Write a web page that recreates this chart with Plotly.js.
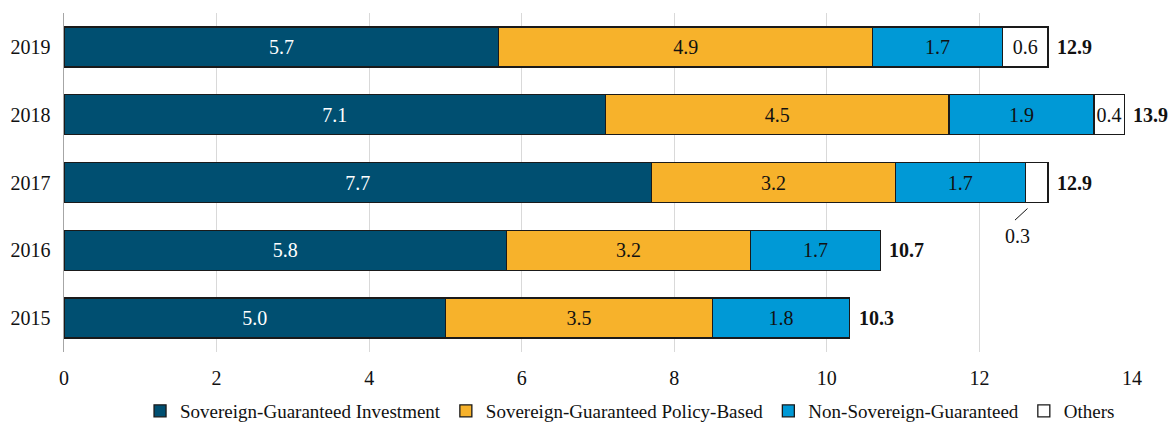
<!DOCTYPE html>
<html>
<head>
<meta charset="utf-8">
<script src="https://cdn.plot.ly/plotly-3.0.1.min.js"></script>
<style>
  html, body { margin: 0; padding: 0; background: #fff; }
  #chart { width: 1170px; height: 423px; }
</style>
</head>
<body>
<div id="chart"></div>
<script>
// Lending approvals by type, 2015-2019 ($ billion)
const years = ['2015', '2016', '2017', '2018', '2019'];
const sovInvestment = [5.0, 5.8, 7.7, 7.1, 5.7];
const sovPolicy = [3.5, 3.2, 3.2, 4.5, 4.9];
const nonSovereign = [1.8, 1.7, 1.7, 1.9, 1.7];
const others = [null, null, 0.3, 0.4, 0.6];
const seriesNames = [
  'Sovereign-Guaranteed Investment',
  'Sovereign-Guaranteed Policy-Based',
  'Non-Sovereign-Guaranteed',
  'Others'
];
const seriesColors = ['#004F71', '#F7B22B', '#0099D6', '#FFFFFF'];
const labelColors = ['#FFFFFF', '#111111', '#111111', '#111111'];
// the 2017 "Others" value is labelled outside the bar with a leader line
const othersTextPos = ['none', 'none', 'none', 'inside', 'inside'];

const FONT = 'Liberation Serif';
const seriesValues = [sovInvestment, sovPolicy, nonSovereign, others];

const traces = seriesValues.map((vals, i) => ({
  type: 'bar',
  orientation: 'h',
  name: seriesNames[i],
  y: years,
  x: vals,
  text: vals.map(v => (v == null ? '' : v.toFixed(1))),
  texttemplate: '%{text}',
  textposition: i === 3 ? othersTextPos : 'inside',
  insidetextanchor: 'middle',
  constraintext: 'none',
  textangle: 0,
  insidetextfont: { family: FONT, size: 20, color: labelColors[i] },
  marker: { color: seriesColors[i], line: { color: '#1a1a1a', width: 1.3 } },
  hoverinfo: 'x+name'
}));

// totals shown in bold at the end of each bar
const totals = years.map((_, k) =>
  seriesValues.reduce((s, arr) => s + (arr[k] || 0), 0));

// annotations on the category axis are placed by category index
const annotations = years.map((yr, k) => ({
  x: totals[k],
  y: k,
  xref: 'x',
  yref: 'y',
  text: '<b>' + totals[k].toFixed(1) + '</b>',
  showarrow: false,
  xanchor: 'left',
  xshift: 7,
  font: { family: FONT, size: 20, color: '#111' }
}));

// leader line and label for the small 2017 "Others" segment
const k17 = years.indexOf('2017');
const othersStart17 = sovInvestment[k17] + sovPolicy[k17] + nonSovereign[k17];
annotations.push({
  x: othersStart17 + 0.03,
  y: k17,
  xref: 'x',
  yref: 'y',
  yshift: -26,
  text: '',
  showarrow: true,
  arrowhead: 0,
  arrowwidth: 1,
  arrowcolor: '#111',
  standoff: 0,
  ax: -14,
  ay: 13
});
annotations.push({
  x: othersStart17 + 0.03,
  y: k17,
  xref: 'x',
  yref: 'y',
  yshift: -53,
  xshift: -10,
  text: others[k17].toFixed(1),
  showarrow: false,
  font: { family: FONT, size: 20, color: '#111' }
});

const layout = {
  width: 1170,
  height: 423,
  barmode: 'stack',
  bargap: 0.41,
  paper_bgcolor: '#fff',
  plot_bgcolor: '#fff',
  font: { family: FONT, size: 20, color: '#111' },
  margin: { l: 64, r: 38, t: 13, b: 71, autoexpand: false },
  xaxis: {
    range: [0, 14],
    autorange: false,
    dtick: 2,
    showgrid: true,
    gridcolor: '#d9d9d9',
    gridwidth: 1,
    zeroline: false,
    showline: false,
    ticks: 'outside',
    ticklen: 8,
    tickcolor: 'rgba(0,0,0,0)',
    tickfont: { family: FONT, size: 20, color: '#111' },
    fixedrange: true
  },
  yaxis: {
    type: 'category',
    categoryorder: 'array',
    categoryarray: years,
    range: [-0.5, years.length - 0.5],
    autorange: false,
    showgrid: false,
    zeroline: false,
    showline: true,
    linecolor: '#a6a6a6',
    linewidth: 1.5,
    ticks: 'outside',
    ticklen: 8,
    tickcolor: 'rgba(0,0,0,0)',
    tickfont: { family: FONT, size: 20, color: '#111' },
    fixedrange: true
  },
  showlegend: true,
  legend: {
    orientation: 'h',
    x: 0.53,
    xanchor: 'center',
    y: -0.174,
    yanchor: 'middle',
    traceorder: 'normal',
    font: { family: FONT, size: 19, color: '#111' },
    itemwidth: 30,
    bgcolor: 'rgba(0,0,0,0)'
  },
  annotations: annotations
};

Plotly.newPlot('chart', traces, layout, { displayModeBar: false, staticPlot: true });
</script>
</body>
</html>
